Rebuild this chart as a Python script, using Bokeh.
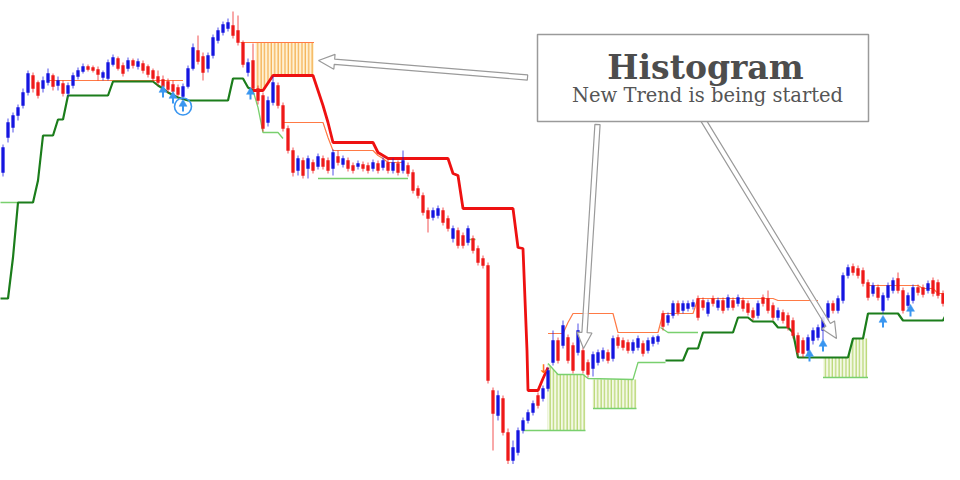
import math
from bokeh.plotting import figure
from bokeh.models import Range1d, ColumnDataSource
from bokeh.core.properties import value
from bokeh.embed import file_html
from bokeh.resources import INLINE

# ---------------- candle data (price units) ----------------
open_price = [308,343,353,365,375,388,405,398,392,398,
405,395,397,387,395,404,409,414,413,411,
403,402,416,422,415,412,420,414,417,414,
410,404,401,399,396,393,384,394,412,430,
424,412,425,440,448,452,455,450,438,408,
420,392,385,358,378,395,375,352,330,310,
320,312,318,314,322,320,312,324,316,320,
315,314,316,315,312,317,313,318,310,317,
310,315,308,292,285,270,263,265,270,262,
242,250,245,238,242,232,222,215,90,65,
82,48,20,28,50,60,68,85,82,92,
118,140,135,143,135,128,130,118,112,118,
122,128,122,143,140,138,130,133,137,130,
137,139,167,158,165,177,170,172,174,182,
180,167,182,173,180,173,180,177,180,177,
170,165,183,182,175,163,168,165,160,145,
140,130,140,143,150,163,177,170,180,205,
214,212,210,198,187,193,170,183,190,202,
190,175,180,193,193,190,200,198,187,175,
178,172]
high_price = [336,362,368,376,392,410,408,400,404,412,
407,404,400,398,408,413,417,416,415,414,
410,421,426,424,418,423,422,422,420,416,
412,410,405,402,400,396,397,415,437,445,
428,428,446,453,459,462,469,465,440,422,
437,395,388,384,404,398,378,355,333,325,
323,325,321,327,325,323,331,330,325,323,
318,320,319,318,321,320,323,321,322,320,
330,318,311,295,288,273,273,275,273,265,
255,253,248,255,245,235,225,218,93,90,
85,52,40,53,63,71,80,88,95,113,
150,143,160,146,138,157,133,121,129,131,
133,131,145,146,143,141,141,145,140,143,
145,146,170,168,180,180,180,180,181,185,
183,181,185,183,183,186,183,186,183,180,
173,180,186,190,178,173,171,168,163,148,
143,146,153,156,166,180,180,185,208,216,
217,215,213,201,198,196,188,198,203,208,
193,188,196,196,196,200,203,201,190,183,
181,178]
low_price = [304,338,348,360,372,385,388,382,388,395,
390,390,384,384,392,401,407,409,408,400,
400,400,414,410,404,409,412,411,407,403,
399,395,391,388,386,384,381,392,410,416,
400,408,422,437,445,449,442,435,413,404,
388,376,349,354,375,372,349,327,304,305,
302,302,307,311,311,307,305,315,313,309,
307,311,309,307,309,307,310,307,307,305,
307,304,287,282,265,248,260,262,255,249,
238,232,232,235,227,215,212,97,30,60,
45,15,10,25,47,57,65,72,79,89,
115,117,132,117,107,125,107,103,104,115,
119,117,119,132,130,127,127,130,124,127,
134,136,150,155,162,165,167,169,171,160,
170,164,174,170,167,170,170,174,169,165,
160,162,174,167,160,160,157,150,142,125,
123,126,136,140,140,160,167,167,177,202,
205,202,194,180,184,180,167,180,187,187,
167,172,177,185,183,187,184,182,174,172,
170,169]
close_price = [333,358,365,373,388,407,392,385,400,407,
394,400,387,395,405,410,414,411,410,406,
408,418,423,412,407,420,415,419,410,406,
402,398,394,391,389,386,394,412,433,419,
408,425,443,450,456,458,445,438,416,418,
392,380,352,380,398,375,352,330,308,322,
305,322,310,324,314,310,328,318,322,312,
310,317,312,310,318,310,320,310,318,308,
320,307,290,285,268,262,270,272,258,252,
252,235,235,252,230,218,215,100,67,85,
48,20,33,50,60,68,77,75,92,110,
140,120,155,120,110,150,110,106,126,128,
130,120,142,135,133,130,138,142,127,140,
143,144,154,165,177,168,177,177,178,163,
173,178,177,180,170,183,173,183,172,168,
163,177,177,170,163,170,160,153,145,128,
127,143,150,153,163,177,170,182,205,213,
208,205,197,183,195,183,185,195,200,190,
170,185,193,188,186,197,187,185,177,180,
173,175]

# ---------------- indicator lines: (bar, price) ----------------
support_dark = [
    [(-1,182),(1,182),(2,223),(3,278),(6,278),(7,300),(8,345),(10,345),(11,361),(12,361),
     (13,385),(21,385),(22,399),(30,399),(31,395),(32,392),(33,388),(35,383),(37,380),
     (45,380),(46,402),(48,402),(49,393),(50,390)],
    [(132.5,120),(136,120),(137,132),(139,132),(140,148),(146,148),(147,163),(149,163),
     (150,159),(154,159),(155,153),(157,153),(158,148),(159,123),(169,123),(170,142),
     (172,142),(173,167),(179,167),(180,160),(188,160),(189,170),(192,170)],
]
support_light = [
    [(-1,278),(3,278)],
    [(50,390),(51,373),(52,348),(55,348),(56,342)],
    [(63,302),(81,302)],
    [(93,241),(94.5,241)],
    [(104,50),(116.5,50)],
    [(109,117),(111,106),(116,106),(117,102),(126,101),(127,118),(132.5,118)],
    [(118,72),(126.7,72)],
    [(131.5,153),(133,148),(139,148)],
    [(164,103),(173,103)],
]
resistance_thick = [
    [(50,390),(52,390),(54,405),(62,405),(63,390),(64,375),(65,358),(66,338),(74,338),
     (75,328),(77,322),(89,322),(90,307),(91,305),(92,272),(102,272),(103,233),(104,232),
     (104.8,130),(105,90),(107,90),(108,102),(109,113)],
]
resistance_thin = [
    [(9,400),(36,400)],
    [(47.5,438),(62.2,438)],
    [(56,358),(64,358),(65,343),(66,330),(74,330),(75,325),(76,322),(77,318),(80,318)],
    [(109,147),(112,147),(113,158),(114,167),(122,167),(123,148),(131,148),(132,167),
     (138,167),(139,182),(154,182),(155,180),(163,180)],
    [(173,195),(183,195),(184,192),(186,192),(187,187),(192,187)],
]

# ---------------- histograms ----------------
hist_orange_x = [50.5, 52, 54, 62.2]
hist_orange_bottom = [390, 390, 405, 405]
hist_orange_top = [438, 438, 438, 438]
hist_green = [
    ([108.9, 111, 116.5], [117, 106, 106], [50, 50, 50]),
    ([117.9, 126.7], [101, 101], [72, 72]),
    ([164, 169, 170, 172.9], [123, 123, 142, 142], [103, 103, 103, 103]),
]

# ---------------- signal arrows ----------------
buy_x = [32, 34, 36, 49.5, 161.3, 164, 176, 181.5, 189]
buy_y = [388, 382, 374, 386, 124, 134, 158, 169, 168]
circled_x = [36]
circled_y = [374]
sell_x = [108.1]
sell_y = [112]

BLUE = "#1616e0"
RED = "#ee1a1a"
DARK_GREEN = "#1b7d1b"
LIGHT_GREEN = "#79d06e"
ORANGE = "#ff7a45"
THICK_RED = "#ee1111"
SIGNAL_BLUE = "#3a96f0"

n = len(open_price)
idx = list(range(n))
colors = [BLUE if c >= o else RED for o, c in zip(open_price, close_price)]
src = ColumnDataSource(dict(
    x=idx, h=high_price, l=low_price,
    top=[max(o, c) for o, c in zip(open_price, close_price)],
    bot=[min(o, c) for o, c in zip(open_price, close_price)],
    color=colors))

p = figure(width=944, height=464, x_range=Range1d(-0.5, 188.3), y_range=Range1d(16, 480),
           output_backend="svg", toolbar_location=None,
           x_axis_location=None, y_axis_location=None, min_border=0)
p.outline_line_color = None
p.background_fill_color = "white"
p.border_fill_color = "white"
for g in p.grid:
    g.visible = False

# histograms
p.varea(x=hist_orange_x, y1=hist_orange_bottom, y2=hist_orange_top,
        fill_color="#fff1d4", hatch_pattern="vertical_line", hatch_color="#f2a030",
        hatch_scale=3.4, hatch_weight=1.0)
for hx, ht, hb in hist_green:
    p.varea(x=hx, y1=hb, y2=ht, fill_color="#f4f9e6", hatch_pattern="vertical_line",
            hatch_color="#a8cf55", hatch_scale=3.4, hatch_weight=1.0)

def split(segs):
    return [[a for a, b in s] for s in segs], [[b for a, b in s] for s in segs]

xs, ys = split(support_light)
p.multi_line(xs, ys, line_color=LIGHT_GREEN, line_width=1.3)
xs, ys = split(resistance_thin)
p.multi_line(xs, ys, line_color=ORANGE, line_width=1.2)
xs, ys = split(support_dark)
p.multi_line(xs, ys, line_color=DARK_GREEN, line_width=2.2)
xs, ys = split(resistance_thick)
p.multi_line(xs, ys, line_color=THICK_RED, line_width=2.8)

# candles
p.segment(x0="x", y0="h", x1="x", y1="l", line_color="color", line_width=1, line_alpha=0.75, source=src)
p.vbar(x="x", width=0.55, top="top", bottom="bot", fill_color="color", line_color="color",
       line_width=0.5, source=src)

# buy signals: small arrow = stem + head
p.segment(x0=buy_x, y0=[v - 5 for v in buy_y], x1=buy_x, y1=[v + 1 for v in buy_y],
          line_color=SIGNAL_BLUE, line_width=2)
p.scatter(x=buy_x, y=[v + 2.5 for v in buy_y], marker="triangle", size=8,
          fill_color=SIGNAL_BLUE, line_color=SIGNAL_BLUE, line_width=0.5)
p.scatter(x=circled_x, y=circled_y, marker="circle", size=17, fill_color=None,
          line_color=SIGNAL_BLUE, line_width=1.6)
p.text(x=sell_x, y=sell_y, text=["↓"], text_color="#ff6a1a",
       text_font=value("DejaVu Sans"), text_font_style="bold", text_font_size="12px",
       text_align="center", text_baseline="middle")

# callout arrows (hollow)
XS = 5.0  # px per bar
def hollow_arrow(x0, y0, x1, y1, shaft=2.6, head_w=7.5, head_l=16):
    X0, Y0, X1, Y1 = x0 * XS, y0, x1 * XS, y1
    dx, dy = X1 - X0, Y1 - Y0
    L = math.hypot(dx, dy)
    ux, uy = dx / L, dy / L
    nx, ny = -uy, ux
    bx, by = X1 - ux * head_l, Y1 - uy * head_l
    pts = [(X0 + nx * shaft, Y0 + ny * shaft), (bx + nx * shaft, by + ny * shaft),
           (bx + nx * head_w, by + ny * head_w), (X1, Y1),
           (bx - nx * head_w, by - ny * head_w), (bx - nx * shaft, by - ny * shaft),
           (X0 - nx * shaft, Y0 - ny * shaft)]
    return [q[0] / XS for q in pts], [q[1] for q in pts]

arrows = [((104.9, 403), (63.1, 420)), ((118.9, 356), (116.1, 132)), ((140.1, 360), (166.7, 142))]
axs, ays = [], []
for (a, b), (c, d) in arrows:
    ax_, ay_ = hollow_arrow(a, b, c, d)
    axs.append(ax_); ays.append(ay_)
p.patches(axs, ays, fill_color="white", fill_alpha=0.85, line_color="#9a9a9a", line_width=1.2)

# callout box
p.quad(left=[106.9], right=[173.1], bottom=[359], top=[446], fill_color="white",
       line_color="#9a9a9a", line_width=1.5)
p.text(x=[140.5], y=[413], text=["Histogram"], text_color="#4d4d4d",
       text_font=value("DejaVu Serif"), text_font_style="bold", text_font_size="33px",
       text_align="center", text_baseline="alphabetic")
p.text(x=[140.9], y=[385], text=["New Trend is being started"], text_color="#555555",
       text_font=value("DejaVu Serif"), text_font_size="19.5px",
       text_align="center", text_baseline="alphabetic")

open("out.html", "w").write(file_html(p, INLINE))
